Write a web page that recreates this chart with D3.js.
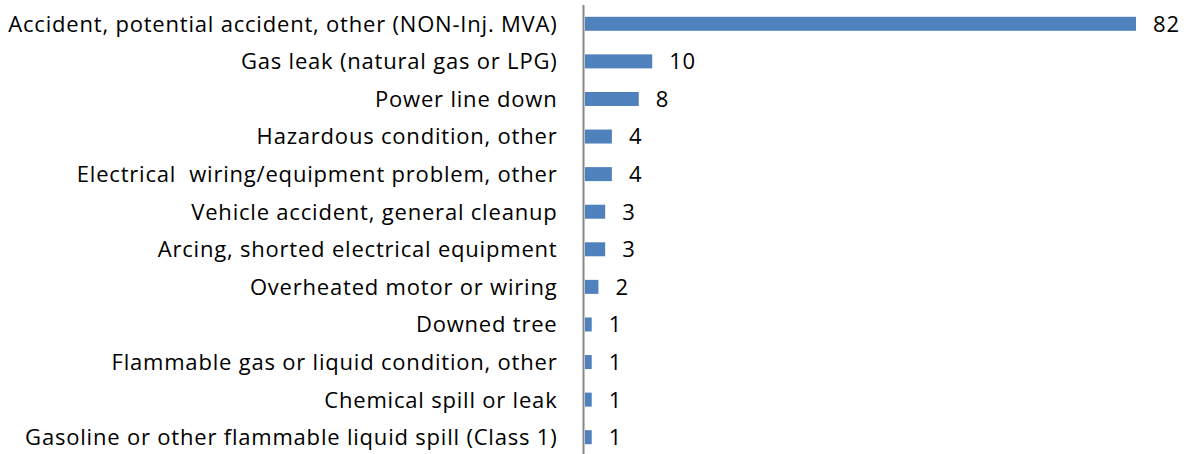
<!DOCTYPE html>
<html><head><meta charset="utf-8">
<script src="https://cdn.jsdelivr.net/npm/d3@7"></script>
<style>body{margin:0;background:#fff}svg{display:block}text{white-space:pre}</style>
</head><body><svg id="c" width="1187" height="454"></svg>
<script>
const categories = [
  "Accident, potential accident, other (NON-Inj. MVA)",
  "Gas leak (natural gas or LPG)",
  "Power line down",
  "Hazardous condition, other",
  "Electrical  wiring/equipment problem, other",
  "Vehicle accident, general cleanup",
  "Arcing, shorted electrical equipment",
  "Overheated motor or wiring",
  "Downed tree",
  "Flammable gas or liquid condition, other",
  "Chemical spill or leak",
  "Gasoline or other flammable liquid spill (Class 1)"
];
const values = [82, 10, 8, 4, 4, 3, 3, 2, 1, 1, 1, 1];

const svg = d3.select("#c");
const x = d3.scaleLinear().domain([0, 82]).range([585, 1136]);
const y = d3.scaleBand().domain(categories).range([5, 456]);
const barH = 14;
const font = "'Open Sans', sans-serif";

svg.selectAll("rect.bar").data(values).join("rect")
  .attr("x", x(0))
  .attr("y", (d, i) => y(categories[i]) + y.bandwidth() / 2 - barH / 2)
  .attr("width", d => x(d) - x(0))
  .attr("height", barH)
  .attr("fill", "#4F81BD");

svg.selectAll("text.val").data(values).join("text")
  .attr("x", d => x(d) + 17)
  .attr("y", (d, i) => y(categories[i]) + y.bandwidth() / 2)
  .attr("dy", "0.36em")
  .attr("font-family", font)
  .attr("font-size", 22)
  .attr("letter-spacing", 0.8)
  .attr("fill", "#000")
  .text(d => d);

const axis = d3.axisLeft(y).tickSize(0).tickPadding(26);
const g = svg.append("g").attr("transform", "translate(583.5,0)").call(axis);
g.select(".domain").attr("stroke", "#868686").attr("stroke-width", 2).attr("d", "M0,5V454");
g.selectAll("text").attr("font-family", font).attr("font-size", 22).attr("letter-spacing", 0.8)
  .attr("fill", "#000").attr("dy", "0.36em");
</script></body></html>
